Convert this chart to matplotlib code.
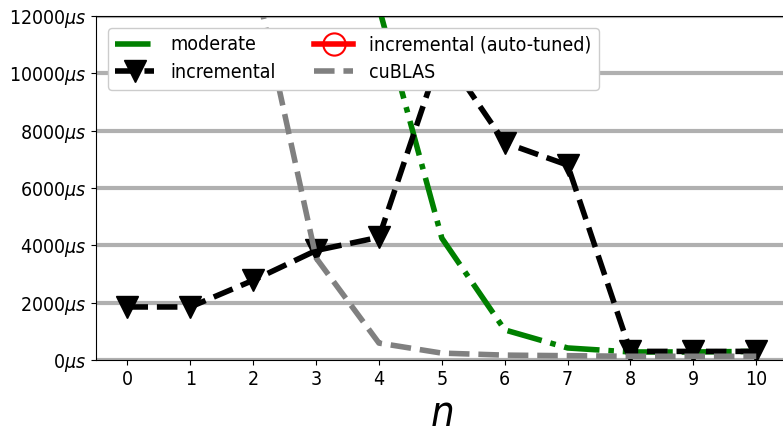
import matplotlib
matplotlib.use('Agg')
import matplotlib.pyplot as plt
from matplotlib.ticker import FuncFormatter

plt.rcParams['font.stretch'] = 'condensed'

n = list(range(11))

# tiempos en microsegundos
moderate = [None, None, None, None, 12300, 4250, 1050, 420, 280, 280, 300]
incremental = [1850, 1850, 2780, 3820, 4280, 10800, 7580, 6800, 300, 300, 300]
auto_tuned = []  # solo aparece en la leyenda
cublas = [None, None, 13600, 3560, 590, 240, 170, 150, 130, 130, 130]

def limpiar(xs, ys):
    pares = [(x, y) for x, y in zip(xs, ys) if y is not None]
    return [p[0] for p in pares], [p[1] for p in pares]

fig = plt.figure(figsize=(7.83, 4.30), dpi=100)
ax = fig.add_axes([0.1226, 0.1628, 0.8834, 0.8])

x, y = limpiar(n, moderate)
ax.plot(x, y, color='green', linestyle='-.', linewidth=4, label='moderate')
x, y = limpiar(n, incremental)
ax.plot(x, y, color='black', linestyle='--', linewidth=4, marker='v',
        markersize=16, label='incremental')
ax.plot(auto_tuned, auto_tuned, color='red', linestyle='-', linewidth=4, marker='o',
        markersize=16, markerfacecolor='none', markeredgewidth=1.5,
        label='incremental (auto-tuned)')
x, y = limpiar(n, cublas)
ax.plot(x, y, color='gray', linestyle='--', linewidth=4, label='cuBLAS')

ax.set_xlim(-0.5, 10.5)
ax.set_ylim(0, 12000)
ax.set_xticks(n)
ax.set_yticks(range(0, 12001, 2000))
ax.yaxis.set_major_formatter(FuncFormatter(lambda v, p: '%d$\\mu s$' % v))
ax.tick_params(labelsize=14)
ax.yaxis.grid(True, color='#b0b0b0', linewidth=3)
ax.set_axisbelow(True)
ax.set_xlabel('$n$', fontsize=30, labelpad=3)

ax.legend(ncol=2, loc='upper left', framealpha=1.0, fontsize=14,
          borderaxespad=0.6, handlelength=2.0, labelspacing=0.45, columnspacing=2.0)

fig.savefig('out.png', dpi=100)
